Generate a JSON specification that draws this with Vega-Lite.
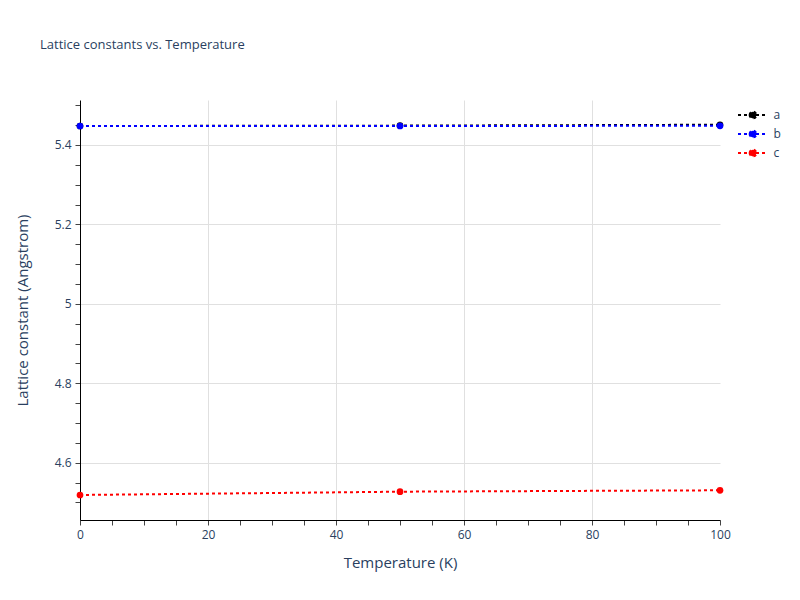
{
  "$schema": "https://vega.github.io/schema/vega-lite/v6.json",
  "autosize": {"type": "none"},
  "padding": {"left": 80, "top": 100, "right": 80, "bottom": 80},
  "width": 640,
  "height": 420,
  "background": "white",
  "title": {
    "text": "Lattice constants vs. Temperature",
    "anchor": "start",
    "frame": "group",
    "dx": -40,
    "offset": 47,
    "fontSize": 13,
    "font": "Open Sans",
    "fontWeight": "normal",
    "color": "#2a3f5f"
  },
  "data": {
    "values": [
      {"temperature": 0, "constant": 5.4478, "series": "a"},
      {"temperature": 50, "constant": 5.4488, "series": "a"},
      {"temperature": 100, "constant": 5.451, "series": "a"},
      {"temperature": 0, "constant": 5.4478, "series": "b"},
      {"temperature": 50, "constant": 5.4478, "series": "b"},
      {"temperature": 100, "constant": 5.4484, "series": "b"},
      {"temperature": 0, "constant": 4.5187, "series": "c"},
      {"temperature": 50, "constant": 4.527, "series": "c"},
      {"temperature": 100, "constant": 4.5305, "series": "c"}
    ]
  },
  "encoding": {
    "x": {
      "field": "temperature",
      "type": "quantitative",
      "scale": {"domain": [0, 100], "nice": false, "zero": false},
      "axis": {
        "title": "Temperature (K)",
        "values": [0, 5, 10, 15, 20, 25, 30, 35, 40, 45, 50, 55, 60, 65, 70, 75, 80, 85, 90, 95, 100],
        "labelExpr": "datum.value % 20 === 0 ? datum.label : ''",
        "gridColor": "#e0e0e0",
        "gridOpacity": {
          "condition": {"test": "datum.value % 20 === 0 && datum.value > 0 && datum.value < 100", "value": 1},
          "value": 0
        },
        "tickSize": 5,
        "tickColor": "#444",
        "domainColor": "black",
        "labelPadding": 4,
        "titlePadding": 15,
        "labelFontSize": 12,
        "titleFontSize": 15,
        "titleFontWeight": "normal",
        "labelColor": "#2a3f5f",
        "titleColor": "#2a3f5f",
        "labelFont": "Open Sans",
        "titleFont": "Open Sans",
        "labelFlush": false,
        "labelOverlap": false
      }
    },
    "y": {
      "field": "constant",
      "type": "quantitative",
      "scale": {"domain": [4.4557, 5.5133], "nice": false, "zero": false},
      "axis": {
        "title": "Lattice constant (Angstrom)",
        "values": [4.5, 4.55, 4.6, 4.65, 4.7, 4.75, 4.8, 4.85, 4.9, 4.95, 5, 5.05, 5.1, 5.15, 5.2, 5.25, 5.3, 5.35, 5.4, 5.45, 5.5],
        "labelExpr": "abs(datum.value * 5 - round(datum.value * 5)) < 0.001 ? format(datum.value, '~g') : ''",
        "gridColor": "#e0e0e0",
        "gridOpacity": {
          "condition": {"test": "abs(datum.value * 5 - round(datum.value * 5)) < 0.001", "value": 1},
          "value": 0
        },
        "tickSize": 5,
        "tickColor": "#444",
        "domainColor": "black",
        "labelPadding": 4,
        "titlePadding": 24,
        "labelFontSize": 12,
        "titleFontSize": 15,
        "titleFontWeight": "normal",
        "labelColor": "#2a3f5f",
        "titleColor": "#2a3f5f",
        "labelFont": "Open Sans",
        "titleFont": "Open Sans",
        "labelFlush": false,
        "labelOverlap": false
      }
    },
    "color": {
      "field": "series",
      "type": "nominal",
      "scale": {"domain": ["a", "b", "c"], "range": ["black", "blue", "red"]},
      "legend": {
        "title": null,
        "orient": "none",
        "legendX": 664.5,
        "legendY": 6.5,
        "padding": 0,
        "symbolType": "M-2,0H2M-0.45,0A0.45,0.45,0,1,1,0.45,0A0.45,0.45,0,1,1,-0.45,0Z",
        "symbolSize": 225,
        "symbolStrokeWidth": 2,
        "symbolDash": [3, 3],
        "symbolOpacity": 1,
        "rowPadding": 3,
        "labelOffset": 12,
        "labelFontSize": 12,
        "labelFont": "Open Sans",
        "labelColor": "#2a3f5f",
        "encode": {
          "symbols": {
            "update": {
              "fill": {"signal": "scale('color', datum.value)"},
              "stroke": {"signal": "scale('color', datum.value)"}
            }
          }
        }
      }
    }
  },
  "layer": [
    {"mark": {"type": "line", "strokeWidth": 2, "strokeDash": [3, 3]}},
    {"mark": {"type": "point", "filled": true, "size": 45, "opacity": 1}}
  ],
  "config": {"view": {"stroke": null}}
}
